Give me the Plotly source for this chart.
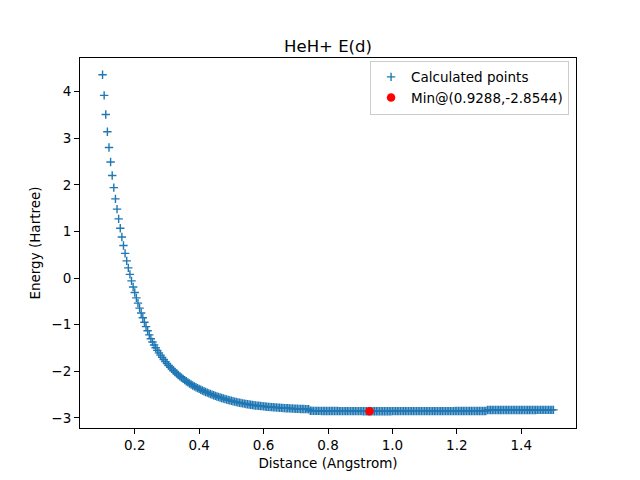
import plotly.graph_objects as go

# distances (Angstrom) of the calculated points, 0.1 .. 1.5 every 0.005
distances = [
    0.100, 0.105, 0.110, 0.115, 0.120, 0.125, 0.130, 0.135, 0.140, 0.145,
    0.150, 0.155, 0.160, 0.165, 0.170, 0.175, 0.180, 0.185, 0.190, 0.195,
    0.200, 0.205, 0.210, 0.215, 0.220, 0.225, 0.230, 0.235, 0.240, 0.245,
    0.250, 0.255, 0.260, 0.265, 0.270, 0.275, 0.280, 0.285, 0.290, 0.295,
    0.300, 0.305, 0.310, 0.315, 0.320, 0.325, 0.330, 0.335, 0.340, 0.345,
    0.350, 0.355, 0.360, 0.365, 0.370, 0.375, 0.380, 0.385, 0.390, 0.395,
    0.400, 0.405, 0.410, 0.415, 0.420, 0.425, 0.430, 0.435, 0.440, 0.445,
    0.450, 0.455, 0.460, 0.465, 0.470, 0.475, 0.480, 0.485, 0.490, 0.495,
    0.500, 0.505, 0.510, 0.515, 0.520, 0.525, 0.530, 0.535, 0.540, 0.545,
    0.550, 0.555, 0.560, 0.565, 0.570, 0.575, 0.580, 0.585, 0.590, 0.595,
    0.600, 0.605, 0.610, 0.615, 0.620, 0.625, 0.630, 0.635, 0.640, 0.645,
    0.650, 0.655, 0.660, 0.665, 0.670, 0.675, 0.680, 0.685, 0.690, 0.695,
    0.700, 0.705, 0.710, 0.715, 0.720, 0.725, 0.730, 0.735, 0.740, 0.745,
    0.750, 0.755, 0.760, 0.765, 0.770, 0.775, 0.780, 0.785, 0.790, 0.795,
    0.800, 0.805, 0.810, 0.815, 0.820, 0.825, 0.830, 0.835, 0.840, 0.845,
    0.850, 0.855, 0.860, 0.865, 0.870, 0.875, 0.880, 0.885, 0.890, 0.895,
    0.900, 0.905, 0.910, 0.915, 0.920, 0.925, 0.930, 0.935, 0.940, 0.945,
    0.950, 0.955, 0.960, 0.965, 0.970, 0.975, 0.980, 0.985, 0.990, 0.995,
    1.000, 1.005, 1.010, 1.015, 1.020, 1.025, 1.030, 1.035, 1.040, 1.045,
    1.050, 1.055, 1.060, 1.065, 1.070, 1.075, 1.080, 1.085, 1.090, 1.095,
    1.100, 1.105, 1.110, 1.115, 1.120, 1.125, 1.130, 1.135, 1.140, 1.145,
    1.150, 1.155, 1.160, 1.165, 1.170, 1.175, 1.180, 1.185, 1.190, 1.195,
    1.200, 1.205, 1.210, 1.215, 1.220, 1.225, 1.230, 1.235, 1.240, 1.245,
    1.250, 1.255, 1.260, 1.265, 1.270, 1.275, 1.280, 1.285, 1.290, 1.295,
    1.300, 1.305, 1.310, 1.315, 1.320, 1.325, 1.330, 1.335, 1.340, 1.345,
    1.350, 1.355, 1.360, 1.365, 1.370, 1.375, 1.380, 1.385, 1.390, 1.395,
    1.400, 1.405, 1.410, 1.415, 1.420, 1.425, 1.430, 1.435, 1.440, 1.445,
    1.450, 1.455, 1.460, 1.465, 1.470, 1.475, 1.480, 1.485, 1.490, 1.495,
    1.500,
]

# total energy (Hartree)
energies = [
    4.36, 3.92, 3.51, 3.14, 2.80, 2.49, 2.20, 1.94, 1.70, 1.48,
    1.27, 1.07, 0.88, 0.70, 0.53, 0.37, 0.22, 0.08, -0.06, -0.19,
    -0.310, -0.425, -0.536, -0.644, -0.748, -0.849, -0.946, -1.040, -1.130, -1.217,
    -1.300, -1.370, -1.435, -1.495, -1.551, -1.603, -1.653, -1.701, -1.747, -1.791,
    -1.833, -1.873, -1.911, -1.947, -1.981, -2.014, -2.046, -2.077, -2.107, -2.135,
    -2.162, -2.188, -2.213, -2.237, -2.260, -2.282, -2.303, -2.323, -2.342, -2.360,
    -2.377, -2.394, -2.410, -2.426, -2.442, -2.457, -2.472, -2.486, -2.500, -2.513,
    -2.526, -2.539, -2.551, -2.562, -2.573, -2.584, -2.594, -2.604, -2.614, -2.623,
    -2.632, -2.641, -2.649, -2.657, -2.665, -2.672, -2.679, -2.686, -2.693, -2.699,
    -2.705, -2.711, -2.716, -2.721, -2.726, -2.731, -2.735, -2.739, -2.743, -2.747,
    -2.751, -2.755, -2.758, -2.761, -2.764, -2.767, -2.770, -2.773, -2.776, -2.779,
    -2.781, -2.784, -2.786, -2.788, -2.790, -2.792, -2.794, -2.796, -2.798, -2.800,
    -2.802, -2.803, -2.805, -2.806, -2.808, -2.809, -2.810, -2.811, -2.812, -2.8460,
    -2.8465, -2.8469, -2.8473, -2.8477, -2.8481, -2.8485, -2.8489, -2.8492, -2.8496, -2.8499,
    -2.8503, -2.8506, -2.8509, -2.8512, -2.8514, -2.8517, -2.8519, -2.8522, -2.8524, -2.8526,
    -2.8528, -2.8530, -2.8532, -2.8534, -2.8535, -2.8537, -2.8538, -2.8539, -2.8540, -2.8541,
    -2.8542, -2.8542, -2.8543, -2.8543, -2.8543, -2.8544, -2.8544, -2.8544, -2.8544, -2.8544,
    -2.8544, -2.8544, -2.8544, -2.8544, -2.8543, -2.8543, -2.8543, -2.8543, -2.8543, -2.8543,
    -2.8542, -2.8542, -2.8542, -2.8542, -2.8541, -2.8541, -2.8541, -2.8540, -2.8540, -2.8540,
    -2.8539, -2.8539, -2.8539, -2.8538, -2.8538, -2.8537, -2.8537, -2.8536, -2.8536, -2.8535,
    -2.8535, -2.8534, -2.8534, -2.8533, -2.8532, -2.8532, -2.8531, -2.8530, -2.8530, -2.8529,
    -2.8528, -2.8528, -2.8527, -2.8526, -2.8526, -2.8525, -2.8524, -2.8523, -2.8522, -2.8521,
    -2.8521, -2.8520, -2.8519, -2.8518, -2.8517, -2.8516, -2.8515, -2.8514, -2.8513, -2.8512,
    -2.8511, -2.8510, -2.8509, -2.8508, -2.8507, -2.8506, -2.8505, -2.8504, -2.8503, -2.8290,
    -2.8289, -2.8289, -2.8288, -2.8288, -2.8287, -2.8287, -2.8286, -2.8286, -2.8285, -2.8285,
    -2.8284, -2.8284, -2.8283, -2.8283, -2.8282, -2.8282, -2.8281, -2.8281, -2.8280, -2.8280,
    -2.8279, -2.8279, -2.8278, -2.8278, -2.8277, -2.8277, -2.8276, -2.8276, -2.8275, -2.8275,
    -2.8274, -2.8274, -2.8273, -2.8273, -2.8272, -2.8272, -2.8271, -2.8271, -2.8270, -2.8270,
    -2.8269,
]

min_distance = 0.9288
min_energy = -2.8544

x_ticks = [0.2, 0.4, 0.6, 0.8, 1.0, 1.2, 1.4]
y_ticks = [-3, -2, -1, 0, 1, 2, 3, 4]

# matplotlib-like 5% padding around the data
x_pad = 0.05 * (max(distances) - min(distances))
y_pad = 0.05 * (max(energies) - min_energy)

font = "DejaVu Sans"

fig = go.Figure()
fig.add_trace(go.Scatter(
    x=distances, y=energies, mode="markers", name="Calculated points",
    marker=dict(symbol="cross-thin", size=6, color="#1f77b4",
                line=dict(color="#1f77b4", width=1.4)),
))
fig.add_trace(go.Scatter(
    x=[min_distance], y=[min_energy], mode="markers",
    name=f"Min@({min_distance},{min_energy})",
    marker=dict(symbol="circle", size=8.5, color="red"),
))

axis = dict(showgrid=False, zeroline=False, showline=True, mirror=True,
            linecolor="black", linewidth=1.1, ticks="outside", ticklen=5,
            tickwidth=1.1, tickcolor="black",
            tickfont=dict(family=font, size=13.5, color="black"))

# the page puts the figure 8px in from the top-left, so the margins are
# shifted to keep the axes box where it sits in the reference
fig.update_layout(
    width=640, height=480,
    margin=dict(l=72, r=72, t=50, b=60),
    paper_bgcolor="white", plot_bgcolor="white",
    font=dict(family=font, color="black"),
    title=dict(text="HeH+ E(d)", x=0.5, xref="paper", y=1, yref="paper",
               yanchor="bottom", pad=dict(b=6),
               font=dict(family=font, size=16.5, color="black")),
    xaxis=dict(axis, range=[min(distances) - x_pad, max(distances) + x_pad],
               tickvals=x_ticks, ticktext=[f"{t:.1f}" for t in x_ticks],
               title=dict(text="Distance (Angstrom)", standoff=6,
                          font=dict(family=font, size=13.5))),
    yaxis=dict(axis, range=[min_energy - y_pad, max(energies) + y_pad],
               tickvals=y_ticks,
               title=dict(text="Energy (Hartree)", standoff=7,
                          font=dict(family=font, size=13.5))),
    legend=dict(x=0.986, y=0.993, xanchor="right", yanchor="top",
                bgcolor="rgba(255,255,255,0.8)", bordercolor="#cccccc",
                borderwidth=1, font=dict(family=font, size=13.5)),
    showlegend=True,
)

fig.write_html("out.html")
